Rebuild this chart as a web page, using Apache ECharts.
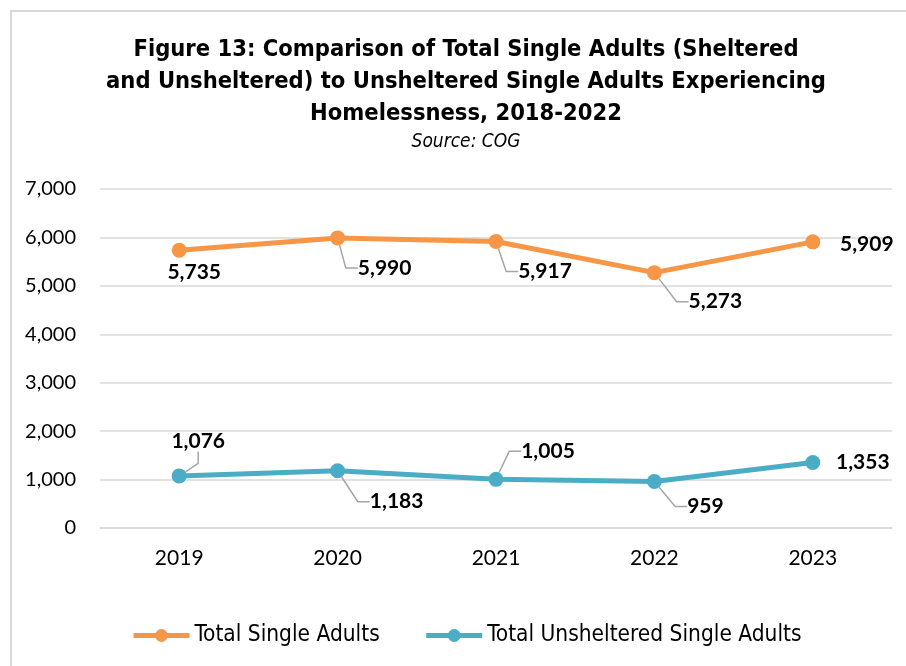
<!DOCTYPE html>
<html>
<head>
<meta charset="utf-8">
<script src="https://cdn.jsdelivr.net/npm/echarts@6/dist/echarts.min.js"></script>
<style>
  html, body { margin: 0; padding: 0; background: #fff; }
  #chart { width: 906px; height: 666px; }
</style>
</head>
<body>
<div id="chart"></div>
<script>
// Point-in-time counts of single adults experiencing homelessness
const years = ['2019', '2020', '2021', '2022', '2023'];
const totalSingleAdults = [5735, 5990, 5917, 5273, 5909];
const unshelteredSingleAdults = [1076, 1183, 1005, 959, 1353];
const yTicks = { min: 0, max: 7000, interval: 1000 };

// Where each value label sits relative to its point (px), and whether it gets a leader line
const totalLabelShift = [[15, 22], [47, 30], [49, 30], [61, 29], [54, 2]];
const unshLabelShift = [[19, -35], [59, 31], [52, -28], [51, 25], [50, 0]];
const totalLeader = [false, true, true, true, false];
const unshLeader = [true, true, true, true, false];

const ORANGE = '#F79646';
const BLUE = '#4BACC6';
const LEADER = '#A6A6A6';
const narrow = '"DejaVu Sans Condensed", sans-serif';
const labelFont = 'Lato, "Open Sans", sans-serif';

const fmt = v => v.toLocaleString('en-US');

function buildData(values, leaders) {
  return values.map((v, i) => ({
    value: v,
    labelLine: { show: leaders[i] }
  }));
}

function lineSeries(name, values, color, shifts, leaders) {
  return {
    name: name,
    type: 'line',
    data: buildData(values, leaders),
    symbol: 'circle',
    symbolSize: 15,
    lineStyle: { color: color, width: 5 },
    itemStyle: { color: color },
    emphasis: { disabled: true },
    label: {
      show: true,
      position: 'inside',
      formatter: p => fmt(p.value),
      fontFamily: labelFont,
      fontWeight: 'bold',
      fontSize: 21,
      color: '#000'
    },
    labelLine: {
      lineStyle: { color: LEADER, width: 1.5 },
      length2: 12
    },
    labelLayout: p => ({
      dx: shifts[p.dataIndex][0],
      dy: shifts[p.dataIndex][1]
    })
  };
}

const chart = echarts.init(document.getElementById('chart'), null, { renderer: 'canvas' });
chart.setOption({
  animation: false,
  backgroundColor: '#fff',
  title: {
    text: 'Figure 13: Comparison of Total Single Adults (Sheltered\nand Unsheltered) to Unsheltered Single Adults Experiencing\nHomelessness, 2018-2022',
    subtext: 'Source: COG',
    left: 461,
    top: 29,
    textAlign: 'center',
    itemGap: 3,
    textStyle: {
      fontFamily: narrow,
      fontWeight: 'bold',
      fontSize: 23.5,
      lineHeight: 32,
      color: '#000'
    },
    subtextStyle: {
      fontFamily: narrow,
      fontStyle: 'italic',
      fontSize: 19,
      color: '#000'
    }
  },
  graphic: [{
    type: 'rect',
    shape: { x: 11, y: 11, width: 1000, height: 1000 },
    style: { fill: null, stroke: '#D9D9D9', lineWidth: 2 },
    silent: true,
    z: -1
  }],
  legend: {
    bottom: 14,
    left: 126,
    itemWidth: 56,
    itemHeight: 16,
    itemGap: 44,
    lineStyle: { width: 5 },
    textStyle: { fontFamily: narrow, fontSize: 22.5, color: '#000' },
    data: ['Total Single Adults', 'Total Unsheltered Single Adults']
  },
  grid: { left: 100, right: 14, top: 189, bottom: 138 },
  xAxis: {
    type: 'category',
    data: years,
    boundaryGap: true,
    axisLine: { show: true, lineStyle: { color: '#D9D9D9', width: 1.5 } },
    axisTick: { show: false },
    axisLabel: { fontFamily: labelFont, fontSize: 21, color: '#000', margin: 20 }
  },
  yAxis: {
    type: 'value',
    min: yTicks.min,
    max: yTicks.max,
    interval: yTicks.interval,
    axisLine: { show: false },
    axisTick: { show: false },
    splitLine: { lineStyle: { color: '#D9D9D9', width: 1.5 } },
    axisLabel: { fontFamily: labelFont, fontSize: 20, color: '#000', margin: 24, formatter: v => fmt(v) }
  },
  series: [
    lineSeries('Total Single Adults', totalSingleAdults, ORANGE, totalLabelShift, totalLeader),
    lineSeries('Total Unsheltered Single Adults', unshelteredSingleAdults, BLUE, unshLabelShift, unshLeader)
  ]
});
</script>
</body>
</html>
